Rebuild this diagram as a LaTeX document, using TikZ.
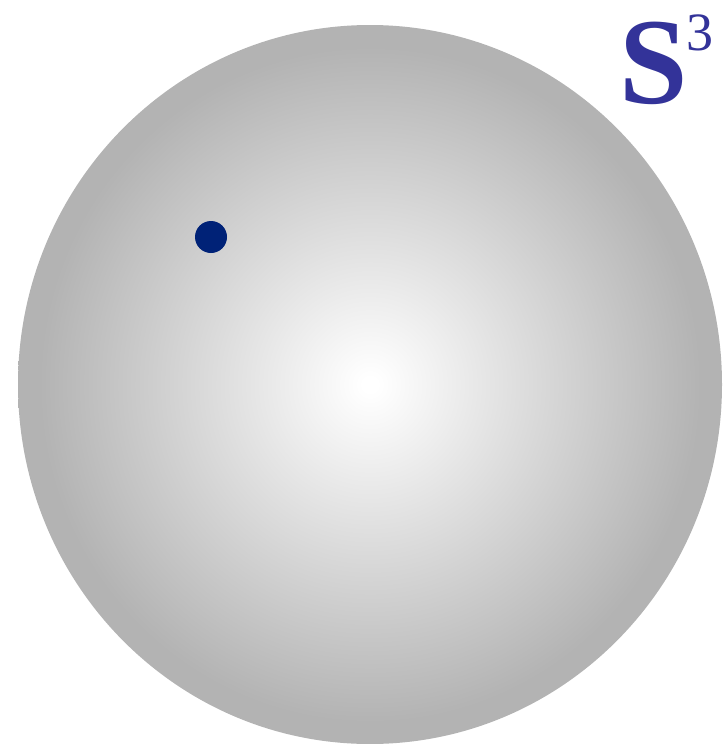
\documentclass[tikz,border=0pt]{standalone}
\usepackage{fontspec}
\setmainfont{Liberation Serif}
\definecolor{sphgray}{HTML}{B3B3B3}
\definecolor{dotblue}{HTML}{002277}
\definecolor{labblue}{HTML}{333399}
\pgfdeclareradialshading{sph}{\pgfpoint{0bp}{0bp}}{color(0bp)=(white); color(0.5bp)=(white); color(23.5bp)=(sphgray); color(50bp)=(sphgray)}
\begin{document}
\begin{tikzpicture}[x=1pt,y=-1pt]
\useasboundingbox (0,0) rectangle (724,744);
\shade[shading=sph] (370,384.5) ellipse [x radius=352, y radius=359.5];
\fill[dotblue] (211,237) circle (16);
\node[anchor=base west, inner sep=0, text=labblue, font=\fontsize{123}{123}\selectfont\bfseries] (lab) at (619,103) {S};
\node[anchor=base west, inner sep=0, text=labblue, font=\fontsize{54}{54}\selectfont] (sup) at (686,50) {3};
\end{tikzpicture}
\end{document}
